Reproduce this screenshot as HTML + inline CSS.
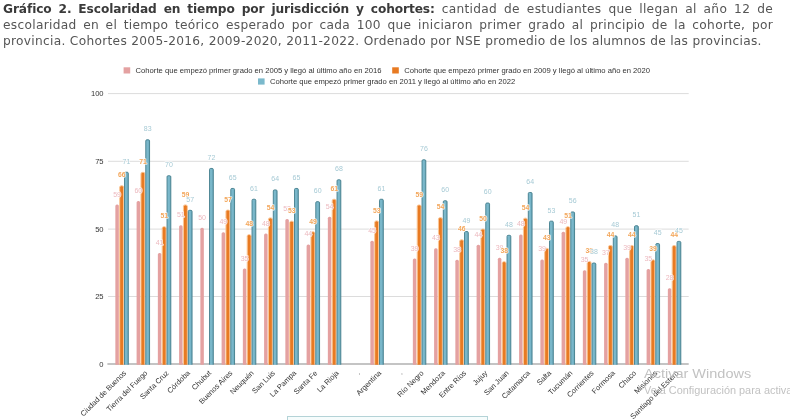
<!DOCTYPE html>
<html lang="es"><head><meta charset="utf-8"><title>Gráfico 2</title>
<style>
html,body{margin:0;padding:0;background:#fff}
body{width:790px;height:420px;position:relative;overflow:hidden;font-family:"Liberation Sans",sans-serif}
.hd{position:absolute;left:3px;width:770px;font-family:"DejaVu Sans","Liberation Sans",sans-serif;font-size:12.2px;letter-spacing:0.3px;line-height:16px;color:#555;white-space:nowrap;text-align:justify;text-align-last:justify}
.hd b{color:#3a3a3a;font-weight:bold;letter-spacing:-0.1px}
.hd.last{text-align:left;text-align-last:left;width:auto}
svg text{font-family:"Liberation Sans",sans-serif}
.yl{font-size:7.6px;fill:#333}
.xl{font-size:7.45px;fill:#333}
.lg{font-size:7.65px;fill:#333}
.vl{font-size:7.0px;text-anchor:middle;stroke:rgba(255,255,255,0.75);stroke-width:1.6px;paint-order:stroke;stroke-linejoin:round}
.vo{font-weight:bold;font-size:6.8px}
.wm{position:absolute;left:644px;color:#c2c2c2;white-space:nowrap;font-family:"Liberation Sans",sans-serif}
.box{position:absolute;left:287px;top:416.2px;width:199px;height:20px;border:1px solid #b4d3d7;background:#f6fcfc}
</style></head><body>
<div class="hd" style="top:0.8px"><b>Gráfico 2. Escolaridad en tiempo por jurisdicción y cohortes:</b> cantidad de estudiantes que llegan al año 12 de</div>
<div class="hd" style="top:17px">escolaridad en el tiempo teórico esperado por cada 100 que iniciaron primer grado al principio de la cohorte, por</div>
<div class="hd last" style="top:33.3px">provincia. Cohortes 2005-2016, 2009-2020, 2011-2022. Ordenado por NSE promedio de los alumnos de las provincias.</div>
<svg width="790" height="420" viewBox="0 0 790 420" style="position:absolute;left:0;top:0">
<defs><linearGradient id="bg" x1="0" x2="1" y1="0" y2="0"><stop offset="0" stop-color="#7fbccf"/><stop offset="0.6" stop-color="#78b6c9"/><stop offset="1" stop-color="#68a6b8"/></linearGradient></defs>
<line x1="108.0" x2="688.7" y1="93.60" y2="93.60" stroke="#dcdcdc" stroke-width="1"/>
<line x1="108.0" x2="688.7" y1="161.30" y2="161.30" stroke="#dcdcdc" stroke-width="1"/>
<line x1="108.0" x2="688.7" y1="229.10" y2="229.10" stroke="#dcdcdc" stroke-width="1"/>
<line x1="108.0" x2="688.7" y1="296.50" y2="296.50" stroke="#dcdcdc" stroke-width="1"/>
<text x="103.6" y="96.45" text-anchor="end" class="yl">100</text>
<text x="103.6" y="164.15" text-anchor="end" class="yl">75</text>
<text x="103.6" y="231.95" text-anchor="end" class="yl">50</text>
<text x="103.6" y="299.35" text-anchor="end" class="yl">25</text>
<text x="103.6" y="366.85" text-anchor="end" class="yl">0</text>
<line x1="107.4" x2="688.7" y1="364.00" y2="364.00" stroke="#b0b0b0" stroke-width="1.3"/>
<g>
<path d="M115.35 364.65V206.02Q115.35 204.52 116.85 204.52H117.35Q118.85 204.52 118.85 206.02V364.65" fill="#e4a1a1"/>
<path d="M136.60 364.65V202.51Q136.60 201.01 138.10 201.01H138.60Q140.10 201.01 140.10 202.51V364.65" fill="#e4a1a1"/>
<path d="M157.85 364.65V254.41Q157.85 252.91 159.35 252.91H159.85Q161.35 252.91 161.35 254.41V364.65" fill="#e4a1a1"/>
<path d="M179.10 364.65V226.84Q179.10 225.34 180.60 225.34H181.10Q182.60 225.34 182.60 226.84V364.65" fill="#e4a1a1"/>
<path d="M200.35 364.65V229.27Q200.35 227.77 201.85 227.77H202.35Q203.85 227.77 203.85 229.27V364.65" fill="#e4a1a1"/>
<path d="M221.60 364.65V233.73Q221.60 232.23 223.10 232.23H223.60Q225.10 232.23 225.10 233.73V364.65" fill="#e4a1a1"/>
<path d="M242.85 364.65V270.08Q242.85 268.58 244.35 268.58H244.85Q246.35 268.58 246.35 270.08V364.65" fill="#e4a1a1"/>
<path d="M264.10 364.65V234.95Q264.10 233.45 265.60 233.45H266.10Q267.60 233.45 267.60 234.95V364.65" fill="#e4a1a1"/>
<path d="M285.35 364.65V220.62Q285.35 219.12 286.85 219.12H287.35Q288.85 219.12 288.85 220.62V364.65" fill="#e4a1a1"/>
<path d="M306.60 364.65V245.89Q306.60 244.39 308.10 244.39H308.60Q310.10 244.39 310.10 245.89V364.65" fill="#e4a1a1"/>
<path d="M327.85 364.65V218.19Q327.85 216.69 329.35 216.69H329.85Q331.35 216.69 331.35 218.19V364.65" fill="#e4a1a1"/>
<path d="M370.35 364.65V242.24Q370.35 240.74 371.85 240.74H372.35Q373.85 240.74 373.85 242.24V364.65" fill="#e4a1a1"/>
<path d="M412.85 364.65V260.08Q412.85 258.58 414.35 258.58H414.85Q416.35 258.58 416.35 260.08V364.65" fill="#e4a1a1"/>
<path d="M434.10 364.65V249.81Q434.10 248.31 435.60 248.31H436.10Q437.60 248.31 437.60 249.81V364.65" fill="#e4a1a1"/>
<path d="M455.35 364.65V261.16Q455.35 259.66 456.85 259.66H457.35Q458.85 259.66 458.85 261.16V364.65" fill="#e4a1a1"/>
<path d="M476.60 364.65V246.30Q476.60 244.80 478.10 244.80H478.60Q480.10 244.80 480.10 246.30V364.65" fill="#e4a1a1"/>
<path d="M497.85 364.65V259.27Q497.85 257.77 499.35 257.77H499.85Q501.35 257.77 501.35 259.27V364.65" fill="#e4a1a1"/>
<path d="M519.10 364.65V235.89Q519.10 234.39 520.60 234.39H521.10Q522.60 234.39 522.60 235.89V364.65" fill="#e4a1a1"/>
<path d="M540.35 364.65V260.89Q540.35 259.39 541.85 259.39H542.35Q543.85 259.39 543.85 260.89V364.65" fill="#e4a1a1"/>
<path d="M561.60 364.65V233.32Q561.60 231.82 563.10 231.82H563.60Q565.10 231.82 565.10 233.32V364.65" fill="#e4a1a1"/>
<path d="M582.85 364.65V271.84Q582.85 270.34 584.35 270.34H584.85Q586.35 270.34 586.35 271.84V364.65" fill="#e4a1a1"/>
<path d="M604.10 364.65V264.27Q604.10 262.77 605.60 262.77H606.10Q607.60 262.77 607.60 264.27V364.65" fill="#e4a1a1"/>
<path d="M625.35 364.65V259.27Q625.35 257.77 626.85 257.77H627.35Q628.85 257.77 628.85 259.27V364.65" fill="#e4a1a1"/>
<path d="M646.60 364.65V270.49Q646.60 268.99 648.10 268.99H648.60Q650.10 268.99 650.10 270.49V364.65" fill="#e4a1a1"/>
<path d="M667.85 364.65V289.68Q667.85 288.18 669.35 288.18H669.85Q671.35 288.18 671.35 289.68V364.65" fill="#e4a1a1"/>
</g>
<g>
<path d="M119.70 364.65V187.24Q119.70 185.74 121.20 185.74H122.10Q123.60 185.74 123.60 187.24V364.65" fill="#e87a22" stroke="#fbc797" stroke-width="1.0"/>
<path d="M140.95 364.65V173.86Q140.95 172.36 142.45 172.36H143.35Q144.85 172.36 144.85 173.86V364.65" fill="#e87a22" stroke="#fbc797" stroke-width="1.0"/>
<path d="M162.20 364.65V228.19Q162.20 226.69 163.70 226.69H164.60Q166.10 226.69 166.10 228.19V364.65" fill="#e87a22" stroke="#fbc797" stroke-width="1.0"/>
<path d="M183.45 364.65V206.43Q183.45 204.93 184.95 204.93H185.85Q187.35 204.93 187.35 206.43V364.65" fill="#e87a22" stroke="#fbc797" stroke-width="1.0"/>
<path d="M225.95 364.65V211.56Q225.95 210.06 227.45 210.06H228.35Q229.85 210.06 229.85 211.56V364.65" fill="#e87a22" stroke="#fbc797" stroke-width="1.0"/>
<path d="M247.20 364.65V236.16Q247.20 234.66 248.70 234.66H249.60Q251.10 234.66 251.10 236.16V364.65" fill="#e87a22" stroke="#fbc797" stroke-width="1.0"/>
<path d="M268.45 364.65V219.40Q268.45 217.90 269.95 217.90H270.85Q272.35 217.90 272.35 219.40V364.65" fill="#e87a22" stroke="#fbc797" stroke-width="1.0"/>
<path d="M289.70 364.65V222.65Q289.70 221.15 291.20 221.15H292.10Q293.60 221.15 293.60 222.65V364.65" fill="#e87a22" stroke="#fbc797" stroke-width="1.0"/>
<path d="M310.95 364.65V233.32Q310.95 231.82 312.45 231.82H313.35Q314.85 231.82 314.85 233.32V364.65" fill="#e87a22" stroke="#fbc797" stroke-width="1.0"/>
<path d="M332.20 364.65V200.75Q332.20 199.25 333.70 199.25H334.60Q336.10 199.25 336.10 200.75V364.65" fill="#e87a22" stroke="#fbc797" stroke-width="1.0"/>
<path d="M374.70 364.65V222.38Q374.70 220.88 376.20 220.88H377.10Q378.60 220.88 378.60 222.38V364.65" fill="#e87a22" stroke="#fbc797" stroke-width="1.0"/>
<path d="M417.20 364.65V206.51Q417.20 205.01 418.70 205.01H419.60Q421.10 205.01 421.10 206.51V364.65" fill="#e87a22" stroke="#fbc797" stroke-width="1.0"/>
<path d="M438.45 364.65V219.13Q438.45 217.63 439.95 217.63H440.85Q442.35 217.63 442.35 219.13V364.65" fill="#e87a22" stroke="#fbc797" stroke-width="1.0"/>
<path d="M459.70 364.65V241.30Q459.70 239.80 461.20 239.80H462.10Q463.60 239.80 463.60 241.30V364.65" fill="#e87a22" stroke="#fbc797" stroke-width="1.0"/>
<path d="M480.95 364.65V230.62Q480.95 229.12 482.45 229.12H483.35Q484.85 229.12 484.85 230.62V364.65" fill="#e87a22" stroke="#fbc797" stroke-width="1.0"/>
<path d="M502.20 364.65V263.19Q502.20 261.69 503.70 261.69H504.60Q506.10 261.69 506.10 263.19V364.65" fill="#e87a22" stroke="#fbc797" stroke-width="1.0"/>
<path d="M523.45 364.65V219.67Q523.45 218.17 524.95 218.17H525.85Q527.35 218.17 527.35 219.67V364.65" fill="#e87a22" stroke="#fbc797" stroke-width="1.0"/>
<path d="M544.70 364.65V249.81Q544.70 248.31 546.20 248.31H547.10Q548.60 248.31 548.60 249.81V364.65" fill="#e87a22" stroke="#fbc797" stroke-width="1.0"/>
<path d="M565.95 364.65V228.19Q565.95 226.69 567.45 226.69H568.35Q569.85 226.69 569.85 228.19V364.65" fill="#e87a22" stroke="#fbc797" stroke-width="1.0"/>
<path d="M587.20 364.65V262.92Q587.20 261.42 588.70 261.42H589.60Q591.10 261.42 591.10 262.92V364.65" fill="#e87a22" stroke="#fbc797" stroke-width="1.0"/>
<path d="M608.45 364.65V246.97Q608.45 245.47 609.95 245.47H610.85Q612.35 245.47 612.35 246.97V364.65" fill="#e87a22" stroke="#fbc797" stroke-width="1.0"/>
<path d="M629.70 364.65V246.97Q629.70 245.47 631.20 245.47H632.10Q633.60 245.47 633.60 246.97V364.65" fill="#e87a22" stroke="#fbc797" stroke-width="1.0"/>
<path d="M650.95 364.65V261.30Q650.95 259.80 652.45 259.80H653.35Q654.85 259.80 654.85 261.30V364.65" fill="#e87a22" stroke="#fbc797" stroke-width="1.0"/>
<path d="M672.20 364.65V247.11Q672.20 245.61 673.70 245.61H674.60Q676.10 245.61 676.10 247.11V364.65" fill="#e87a22" stroke="#fbc797" stroke-width="1.0"/>
</g>
<g>
<path d="M124.55 364.65V173.32Q124.55 172.22 125.65 172.22H127.20Q128.30 172.22 128.30 173.32V364.65" fill="url(#bg)" stroke="#457f8e" stroke-width="0.95"/>
<path d="M145.80 364.65V140.89Q145.80 139.79 146.90 139.79H148.45Q149.55 139.79 149.55 140.89V364.65" fill="url(#bg)" stroke="#457f8e" stroke-width="0.95"/>
<path d="M167.05 364.65V176.84Q167.05 175.74 168.15 175.74H169.70Q170.80 175.74 170.80 176.84V364.65" fill="url(#bg)" stroke="#457f8e" stroke-width="0.95"/>
<path d="M188.30 364.65V211.43Q188.30 210.33 189.40 210.33H190.95Q192.05 210.33 192.05 211.43V364.65" fill="url(#bg)" stroke="#457f8e" stroke-width="0.95"/>
<path d="M209.55 364.65V169.54Q209.55 168.44 210.65 168.44H212.20Q213.30 168.44 213.30 169.54V364.65" fill="url(#bg)" stroke="#457f8e" stroke-width="0.95"/>
<path d="M230.80 364.65V189.54Q230.80 188.44 231.90 188.44H233.45Q234.55 188.44 234.55 189.54V364.65" fill="url(#bg)" stroke="#457f8e" stroke-width="0.95"/>
<path d="M252.05 364.65V200.35Q252.05 199.25 253.15 199.25H254.70Q255.80 199.25 255.80 200.35V364.65" fill="url(#bg)" stroke="#457f8e" stroke-width="0.95"/>
<path d="M273.30 364.65V191.03Q273.30 189.93 274.40 189.93H275.95Q277.05 189.93 277.05 191.03V364.65" fill="url(#bg)" stroke="#457f8e" stroke-width="0.95"/>
<path d="M294.55 364.65V189.54Q294.55 188.44 295.65 188.44H297.20Q298.30 188.44 298.30 189.54V364.65" fill="url(#bg)" stroke="#457f8e" stroke-width="0.95"/>
<path d="M315.80 364.65V202.78Q315.80 201.68 316.90 201.68H318.45Q319.55 201.68 319.55 202.78V364.65" fill="url(#bg)" stroke="#457f8e" stroke-width="0.95"/>
<path d="M337.05 364.65V180.89Q337.05 179.79 338.15 179.79H339.70Q340.80 179.79 340.80 180.89V364.65" fill="url(#bg)" stroke="#457f8e" stroke-width="0.95"/>
<path d="M379.55 364.65V200.35Q379.55 199.25 380.65 199.25H382.20Q383.30 199.25 383.30 200.35V364.65" fill="url(#bg)" stroke="#457f8e" stroke-width="0.95"/>
<path d="M422.05 364.65V160.89Q422.05 159.79 423.15 159.79H424.70Q425.80 159.79 425.80 160.89V364.65" fill="url(#bg)" stroke="#457f8e" stroke-width="0.95"/>
<path d="M443.30 364.65V201.84Q443.30 200.74 444.40 200.74H445.95Q447.05 200.74 447.05 201.84V364.65" fill="url(#bg)" stroke="#457f8e" stroke-width="0.95"/>
<path d="M464.55 364.65V232.65Q464.55 231.55 465.65 231.55H467.20Q468.30 231.55 468.30 232.65V364.65" fill="url(#bg)" stroke="#457f8e" stroke-width="0.95"/>
<path d="M485.80 364.65V204.14Q485.80 203.04 486.90 203.04H488.45Q489.55 203.04 489.55 204.14V364.65" fill="url(#bg)" stroke="#457f8e" stroke-width="0.95"/>
<path d="M507.05 364.65V236.44Q507.05 235.34 508.15 235.34H509.70Q510.80 235.34 510.80 236.44V364.65" fill="url(#bg)" stroke="#457f8e" stroke-width="0.95"/>
<path d="M528.30 364.65V193.59Q528.30 192.49 529.40 192.49H530.95Q532.05 192.49 532.05 193.59V364.65" fill="url(#bg)" stroke="#457f8e" stroke-width="0.95"/>
<path d="M549.55 364.65V222.25Q549.55 221.15 550.65 221.15H552.20Q553.30 221.15 553.30 222.25V364.65" fill="url(#bg)" stroke="#457f8e" stroke-width="0.95"/>
<path d="M570.80 364.65V213.06Q570.80 211.96 571.90 211.96H573.45Q574.55 211.96 574.55 213.06V364.65" fill="url(#bg)" stroke="#457f8e" stroke-width="0.95"/>
<path d="M592.05 364.65V264.14Q592.05 263.04 593.15 263.04H594.70Q595.80 263.04 595.80 264.14V364.65" fill="url(#bg)" stroke="#457f8e" stroke-width="0.95"/>
<path d="M613.30 364.65V236.98Q613.30 235.88 614.40 235.88H615.95Q617.05 235.88 617.05 236.98V364.65" fill="url(#bg)" stroke="#457f8e" stroke-width="0.95"/>
<path d="M634.55 364.65V226.84Q634.55 225.74 635.65 225.74H637.20Q638.30 225.74 638.30 226.84V364.65" fill="url(#bg)" stroke="#457f8e" stroke-width="0.95"/>
<path d="M655.80 364.65V244.68Q655.80 243.58 656.90 243.58H658.45Q659.55 243.58 659.55 244.68V364.65" fill="url(#bg)" stroke="#457f8e" stroke-width="0.95"/>
<path d="M677.05 364.65V242.52Q677.05 241.42 678.15 241.42H679.70Q680.80 241.42 680.80 242.52V364.65" fill="url(#bg)" stroke="#457f8e" stroke-width="0.95"/>
</g>
<g>
<text x="117.05" y="196.62" class="vl" fill="#ecb9bf">59</text>
<text x="138.30" y="193.11" class="vl" fill="#ecb9bf">60</text>
<text x="159.55" y="245.01" class="vl" fill="#ecb9bf">41</text>
<text x="180.80" y="217.44" class="vl" fill="#ecb9bf">51</text>
<text x="202.05" y="219.87" class="vl" fill="#ecb9bf">50</text>
<text x="223.30" y="224.33" class="vl" fill="#ecb9bf">49</text>
<text x="244.55" y="260.68" class="vl" fill="#ecb9bf">35</text>
<text x="265.80" y="225.55" class="vl" fill="#ecb9bf">48</text>
<text x="287.05" y="211.22" class="vl" fill="#ecb9bf">53</text>
<text x="308.30" y="236.49" class="vl" fill="#ecb9bf">44</text>
<text x="329.55" y="208.79" class="vl" fill="#ecb9bf">54</text>
<text x="372.05" y="232.84" class="vl" fill="#ecb9bf">45</text>
<text x="414.55" y="250.68" class="vl" fill="#ecb9bf">39</text>
<text x="435.80" y="240.41" class="vl" fill="#ecb9bf">43</text>
<text x="457.05" y="251.76" class="vl" fill="#ecb9bf">38</text>
<text x="478.30" y="236.90" class="vl" fill="#ecb9bf">44</text>
<text x="499.55" y="249.87" class="vl" fill="#ecb9bf">39</text>
<text x="520.80" y="226.49" class="vl" fill="#ecb9bf">48</text>
<text x="542.05" y="251.49" class="vl" fill="#ecb9bf">39</text>
<text x="563.30" y="223.92" class="vl" fill="#ecb9bf">49</text>
<text x="584.55" y="262.44" class="vl" fill="#ecb9bf">35</text>
<text x="605.80" y="254.87" class="vl" fill="#ecb9bf">37</text>
<text x="627.05" y="249.87" class="vl" fill="#ecb9bf">39</text>
<text x="648.30" y="261.09" class="vl" fill="#ecb9bf">35</text>
<text x="669.55" y="280.28" class="vl" fill="#ecb9bf">28</text>
</g>
<g>
<text x="121.70" y="177.43" class="vl vo" fill="#f3a65a">66</text>
<text x="142.95" y="164.05" class="vl vo" fill="#f3a65a">71</text>
<text x="164.20" y="218.38" class="vl vo" fill="#f3a65a">51</text>
<text x="185.45" y="196.62" class="vl vo" fill="#f3a65a">59</text>
<text x="227.95" y="201.76" class="vl vo" fill="#f3a65a">57</text>
<text x="249.20" y="226.36" class="vl vo" fill="#f3a65a">48</text>
<text x="270.45" y="209.60" class="vl vo" fill="#f3a65a">54</text>
<text x="291.70" y="212.84" class="vl vo" fill="#f3a65a">53</text>
<text x="312.95" y="223.52" class="vl vo" fill="#f3a65a">49</text>
<text x="334.20" y="190.95" class="vl vo" fill="#f3a65a">61</text>
<text x="376.70" y="212.57" class="vl vo" fill="#f3a65a">53</text>
<text x="419.20" y="196.70" class="vl vo" fill="#f3a65a">59</text>
<text x="440.45" y="209.33" class="vl vo" fill="#f3a65a">54</text>
<text x="461.70" y="231.49" class="vl vo" fill="#f3a65a">46</text>
<text x="482.95" y="220.81" class="vl vo" fill="#f3a65a">50</text>
<text x="504.20" y="253.39" class="vl vo" fill="#f3a65a">38</text>
<text x="525.45" y="209.87" class="vl vo" fill="#f3a65a">54</text>
<text x="546.70" y="240.01" class="vl vo" fill="#f3a65a">43</text>
<text x="567.95" y="218.38" class="vl vo" fill="#f3a65a">51</text>
<text x="589.20" y="253.12" class="vl vo" fill="#f3a65a">38</text>
<text x="610.45" y="237.17" class="vl vo" fill="#f3a65a">44</text>
<text x="631.70" y="237.17" class="vl vo" fill="#f3a65a">44</text>
<text x="652.95" y="251.49" class="vl vo" fill="#f3a65a">39</text>
<text x="674.20" y="237.30" class="vl vo" fill="#f3a65a">44</text>
</g>
<g>
<text x="126.45" y="163.58" class="vl" fill="#a6cad5">71</text>
<text x="147.70" y="131.14" class="vl" fill="#a6cad5">83</text>
<text x="168.95" y="167.09" class="vl" fill="#a6cad5">70</text>
<text x="190.20" y="201.69" class="vl" fill="#a6cad5">57</text>
<text x="211.45" y="159.79" class="vl" fill="#a6cad5">72</text>
<text x="232.70" y="179.79" class="vl" fill="#a6cad5">65</text>
<text x="253.95" y="190.61" class="vl" fill="#a6cad5">61</text>
<text x="275.20" y="181.28" class="vl" fill="#a6cad5">64</text>
<text x="296.45" y="179.79" class="vl" fill="#a6cad5">65</text>
<text x="317.70" y="193.04" class="vl" fill="#a6cad5">60</text>
<text x="338.95" y="171.14" class="vl" fill="#a6cad5">68</text>
<text x="381.45" y="190.61" class="vl" fill="#a6cad5">61</text>
<text x="423.95" y="151.14" class="vl" fill="#a6cad5">76</text>
<text x="445.20" y="192.09" class="vl" fill="#a6cad5">60</text>
<text x="466.45" y="222.91" class="vl" fill="#a6cad5">49</text>
<text x="487.70" y="194.39" class="vl" fill="#a6cad5">60</text>
<text x="508.95" y="226.69" class="vl" fill="#a6cad5">48</text>
<text x="530.20" y="183.85" class="vl" fill="#a6cad5">64</text>
<text x="551.45" y="212.50" class="vl" fill="#a6cad5">53</text>
<text x="572.70" y="203.31" class="vl" fill="#a6cad5">56</text>
<text x="593.95" y="254.40" class="vl" fill="#a6cad5">38</text>
<text x="615.20" y="227.23" class="vl" fill="#a6cad5">48</text>
<text x="636.45" y="217.10" class="vl" fill="#a6cad5">51</text>
<text x="657.70" y="234.94" class="vl" fill="#a6cad5">45</text>
<text x="678.95" y="232.77" class="vl" fill="#a6cad5">45</text>
</g>
<text transform="translate(126.75 373.50) rotate(-45)" text-anchor="end" class="xl">Ciudad de Buenos</text>
<text transform="translate(148.00 373.50) rotate(-45)" text-anchor="end" class="xl">Tierra del Fuego</text>
<text transform="translate(169.25 373.50) rotate(-45)" text-anchor="end" class="xl">Santa Cruz</text>
<text transform="translate(190.50 373.50) rotate(-45)" text-anchor="end" class="xl">Córdoba</text>
<text transform="translate(211.75 373.50) rotate(-45)" text-anchor="end" class="xl">Chubut</text>
<text transform="translate(233.00 373.50) rotate(-45)" text-anchor="end" class="xl">Buenos Aires</text>
<text transform="translate(254.25 373.50) rotate(-45)" text-anchor="end" class="xl">Neuquén</text>
<text transform="translate(275.50 373.50) rotate(-45)" text-anchor="end" class="xl">San Luis</text>
<text transform="translate(296.75 373.50) rotate(-45)" text-anchor="end" class="xl">La Pampa</text>
<text transform="translate(318.00 373.50) rotate(-45)" text-anchor="end" class="xl">Santa Fe</text>
<text transform="translate(339.25 373.50) rotate(-45)" text-anchor="end" class="xl">La Rioja</text>
<text transform="translate(360.50 373.50) rotate(-45)" text-anchor="end" class="xl">.</text>
<text transform="translate(381.75 373.50) rotate(-45)" text-anchor="end" class="xl">Argentina</text>
<text transform="translate(403.00 373.50) rotate(-45)" text-anchor="end" class="xl">.</text>
<text transform="translate(424.25 373.50) rotate(-45)" text-anchor="end" class="xl">Río Negro</text>
<text transform="translate(445.50 373.50) rotate(-45)" text-anchor="end" class="xl">Mendoza</text>
<text transform="translate(466.75 373.50) rotate(-45)" text-anchor="end" class="xl">Entre Ríos</text>
<text transform="translate(488.00 373.50) rotate(-45)" text-anchor="end" class="xl">Jujuy</text>
<text transform="translate(509.25 373.50) rotate(-45)" text-anchor="end" class="xl">San Juan</text>
<text transform="translate(530.50 373.50) rotate(-45)" text-anchor="end" class="xl">Catamarca</text>
<text transform="translate(551.75 373.50) rotate(-45)" text-anchor="end" class="xl">Salta</text>
<text transform="translate(573.00 373.50) rotate(-45)" text-anchor="end" class="xl">Tucumán</text>
<text transform="translate(594.25 373.50) rotate(-45)" text-anchor="end" class="xl">Corrientes</text>
<text transform="translate(615.50 373.50) rotate(-45)" text-anchor="end" class="xl">Formosa</text>
<text transform="translate(636.75 373.50) rotate(-45)" text-anchor="end" class="xl">Chaco</text>
<text transform="translate(658.00 373.50) rotate(-45)" text-anchor="end" class="xl">Misiones</text>
<text transform="translate(679.25 373.50) rotate(-45)" text-anchor="end" class="xl">Santiago del Estero</text>
<rect x="123.6" y="67.3" width="6.6" height="6.2" fill="#e4a1a1"/><text x="135.6" y="73.1" class="lg">Cohorte que empezó primer grado en 2005 y llegó al último año en 2016</text>
<rect x="392.2" y="67.3" width="6.6" height="6.2" fill="#e87a22"/><text x="404.2" y="73.1" class="lg">Cohorte que empezó primer grado en 2009 y llegó al último año en 2020</text>
<rect x="258.0" y="78.39999999999999" width="6.6" height="6.2" fill="#7bb9cc"/><text x="270.0" y="84.19999999999999" class="lg">Cohorte que empezó primer grado en 2011 y llegó al último año en 2022</text>
</svg>
<div class="wm" style="top:364.5px;font-size:14.5px;line-height:16px;transform:scaleY(0.88);transform-origin:0 12.8px">Activar Windows</div>
<div class="wm" style="top:384px;font-size:10.9px;line-height:12px">Ve a Configuración para activar Windows.</div>
<div class="box"></div>
</body></html>
